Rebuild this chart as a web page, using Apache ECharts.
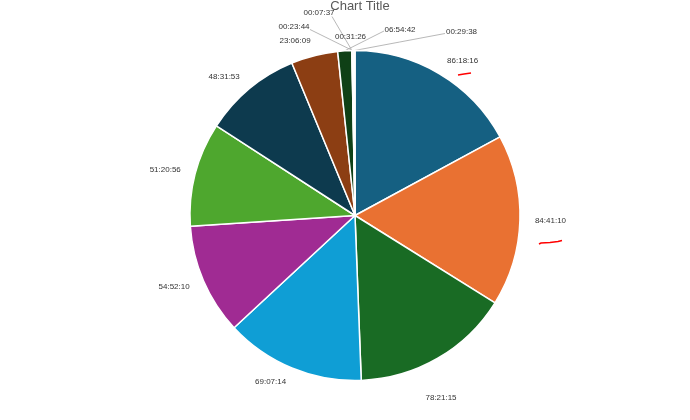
<!DOCTYPE html>
<html>
<head>
<meta charset="utf-8">
<script src="https://cdn.jsdelivr.net/npm/echarts@6/dist/echarts.min.js"></script>
<style>html,body{margin:0;padding:0;background:#fff}#c{width:690px;height:420px}</style>
</head>
<body>
<div id="c"></div>
<script>
// Durations shown on the slices (h:mm:ss), clockwise from 12 o'clock
var durations = ['86:18:16','84:41:10','78:21:15','69:07:14','54:52:10','51:20:56','48:31:53','23:06:09','06:54:42','00:07:37','00:23:44','00:31:26','00:29:38'];
var colors = ['#156082','#E97132','#196B24','#0F9ED5','#A02B93','#4EA72E','#0D3A4E','#8C3E13','#0F4016','#095F80','#601A58','#2F641C','#5F9FC4'];
var chartTitle = 'Chart Title';

function toSeconds(s){var p=s.split(':').map(Number);return p[0]*3600+p[1]*60+p[2];}
var values = durations.map(toSeconds);

// label placements for the crowded / bottom labels (centre x, y, and whether a leader line is drawn)
var labelPlacement = {
  2:  {x:441, y:398, line:false},
  8:  {x:400, y:29.5, line:true, ex:384, ey:31},
  9:  {x:319, y:13, line:true, ex:332, ey:16.5},
  10: {x:294, y:26.5, line:true, ex:310, ey:29.5},
  11: {x:350.5, y:36.5, line:false},
  12: {x:461.5, y:32, line:true, ex:445, ey:33.5}
};

var data = values.map(function(v,i){
  var item = {value:v, name:durations[i], itemStyle:{color:colors[i]}};
  if (labelPlacement[i] && labelPlacement[i].line) item.labelLine = {show:true};
  return item;
});

var chart = echarts.init(document.getElementById('c'), null, {renderer:'canvas'});
chart.setOption({
  animation:false,
  title:{text:chartTitle, left:355, textAlign:'center', top:-5,
    textStyle:{fontSize:13, fontWeight:'normal', color:'#595959', fontFamily:'Liberation Sans'}},
  series:[{
    type:'pie',
    center:[355,215.5],
    radius:165,
    startAngle:90,
    clockwise:true,
    avoidLabelOverlap:false,
    data:data,
    itemStyle:{borderColor:'#ffffff', borderWidth:1.5},
    label:{show:true, position:'outside', formatter:'{b}', fontSize:8, color:'#333333',
      fontFamily:'Liberation Sans', distanceToLabelLine:0},
    labelLine:{show:false, length:15, length2:0, lineStyle:{color:'#a6a6a6', width:0.8}},
    emphasis:{disabled:true},
    labelLayout:function(p){
      var lp = labelPlacement[p.dataIndex];
      if(!lp) return {};
      var res = {x:lp.x, y:lp.y, align:'center', verticalAlign:'middle'};
      if(lp.line){
        var a = p.labelLinePoints ? p.labelLinePoints[0] : [355,50];
        res.labelLinePoints = [[a[0],a[1]],[(a[0]+lp.ex)/2,(a[1]+lp.ey)/2],[lp.ex,lp.ey]];
      }
      return res;
    }
  }],
  graphic:[
    {type:'polyline', shape:{points:[[458,75],[464,74],[471,73]]}, style:{stroke:'#ff0000', lineWidth:1.6, fill:null}},
    {type:'polyline', shape:{points:[[539,244],[541,243],[550,242.5],[558,241.5],[562,240.5]]}, style:{stroke:'#ff0000', lineWidth:1.6, fill:null}}
  ]
});
</script>
</body>
</html>
